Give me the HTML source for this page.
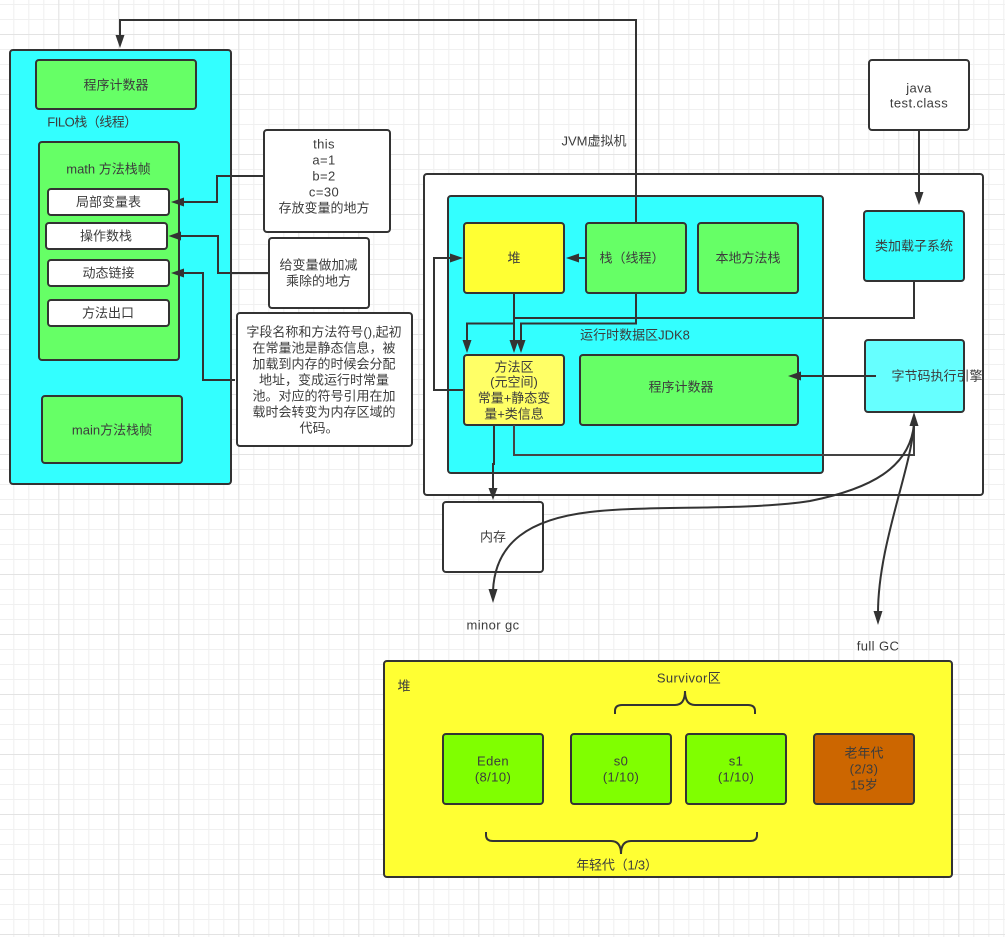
<!DOCTYPE html>
<html><head><meta charset="utf-8"><style>
html,body{margin:0;padding:0;background:#fff}
svg{display:block}
text{font-family:"Liberation Sans","Noto Sans CJK SC",sans-serif;font-size:13px;fill:#3c3c3c;text-anchor:middle;dominant-baseline:central}
text.t{letter-spacing:.4px}
.b{stroke:#333;stroke-width:2}
.l{fill:none;stroke:#333;stroke-width:2}
.a{fill:#333;stroke:none}
</style></head><body>
<svg width="1005" height="937" viewBox="0 0 1005 937" xmlns="http://www.w3.org/2000/svg">
<defs>
<pattern id="m" width="15" height="15" patternUnits="userSpaceOnUse" x="-1.700" y="4">
<path d="M0.5 0V15M0 0.5H15" stroke="#f0f0f0" stroke-width="1" fill="none"/></pattern>
<pattern id="g" width="60" height="60" patternUnits="userSpaceOnUse" x="-1.700" y="34">
<path d="M0.5 0V60M0 0.5H60" stroke="#e3e3e3" stroke-width="1" fill="none"/></pattern>
</defs>
<rect width="1005" height="937" fill="#fff"/>
<rect width="1005" height="937" fill="url(#m)"/>
<rect width="1005" height="937" fill="url(#g)"/>

<!-- left stack -->
<rect class="b" x="10" y="50" width="221" height="434" rx="3" fill="#33ffff"/>
<rect class="b" x="36" y="60" width="160" height="49" rx="3" fill="#66ff66"/>
<rect class="b" x="39" y="142" width="140" height="218" rx="3" fill="#66ff66"/>
<rect class="b" x="48" y="189" width="121" height="26" rx="3" fill="#fff"/>
<rect class="b" x="46" y="223" width="121" height="26" rx="3" fill="#fff"/>
<rect class="b" x="48" y="260" width="121" height="26" rx="3" fill="#fff"/>
<rect class="b" x="48" y="300" width="121" height="26" rx="3" fill="#fff"/>
<rect class="b" x="42" y="396" width="140" height="67" rx="3" fill="#66ff66"/>
<rect class="b" x="264" y="130" width="126" height="102" rx="3" fill="#fff"/>
<rect class="b" x="269" y="238" width="100" height="70" rx="3" fill="#fff"/>
<rect class="b" x="237" y="313" width="175" height="133" rx="3" fill="#fff"/>

<!-- JVM -->
<rect class="b" x="869" y="60" width="100" height="70" rx="3" fill="#fff"/>
<rect class="b" x="424" y="174" width="559" height="321" rx="3" fill="#fff"/>
<rect class="b" x="448" y="196" width="375" height="277" rx="3" fill="#33ffff"/>
<rect class="b" x="464" y="223" width="100" height="70" rx="3" fill="#ffff33"/>
<rect class="b" x="586" y="223" width="100" height="70" rx="3" fill="#66ff66"/>
<rect class="b" x="698" y="223" width="100" height="70" rx="3" fill="#66ff66"/>
<rect class="b" x="464" y="355" width="100" height="70" rx="3" fill="#ffff66"/>
<rect class="b" x="580" y="355" width="218" height="70" rx="3" fill="#66ff66"/>
<rect class="b" x="864" y="211" width="100" height="70" rx="3" fill="#33ffff"/>
<rect class="b" x="865" y="340" width="99" height="72" rx="3" fill="#66ffff"/>
<rect class="b" x="443" y="502" width="100" height="70" rx="3" fill="#fff"/>

<!-- heap -->
<rect class="b" x="384" y="661" width="568" height="216" rx="3" fill="#ffff33"/>
<rect class="b" x="443" y="734" width="100" height="70" rx="3" fill="#80ff00"/>
<rect class="b" x="571" y="734" width="100" height="70" rx="3" fill="#80ff00"/>
<rect class="b" x="686" y="734" width="100" height="70" rx="3" fill="#80ff00"/>
<rect class="b" x="814" y="734" width="100" height="70" rx="3" fill="#cc6600"/>

<!-- braces -->
<path class="l" d="M615 714V711Q615 705 622 705H675Q685 705 685 691Q685 705 695 705H748Q755 705 755 711V714"/>
<path class="l" d="M486 832V835Q486 841 493 841H611Q621 841 621 854Q621 841 631 841H750Q757 841 757 835V832"/>

<!-- connectors -->
<path class="l" d="M636 222V20H120V38"/><polygon class="a" points="120,48 115.500,35 124.500,35"/>
<path class="l" d="M264 176H217V202H182"/><polygon class="a" points="171,202 184,197.500 184,206.500"/>
<path class="l" d="M269 273H218V236H180"/><polygon class="a" points="168.500,236 181,231.500 181,240.500"/>
<path class="l" d="M235 380H203V273H182"/><polygon class="a" points="171,273 184,268.500 184,277.500"/>

<path class="l" d="M919 130V194"/><polygon class="a" points="919,205 914.500,192 923.500,192"/>
<path class="l" d="M914 281V318H514"/>
<path class="l" d="M514 293V342"/><polygon class="a" points="514,353 509.500,340 518.500,340"/>
<path class="l" d="M514 323.500H467V342"/><polygon class="a" points="467,353 462.500,340 471.500,340"/>
<path class="l" d="M636 293V323.500H521V342"/><polygon class="a" points="521,353 516.500,340 525.500,340"/>
<path class="l" d="M464 390H434V258H452"/><polygon class="a" points="463,258 450,253.500 450,262.500"/>
<path class="l" d="M586 258H578"/><polygon class="a" points="566,258 579,253.500 579,262.500"/>
<path class="l" d="M876 376H798"/><polygon class="a" points="788,376 801,371.500 801,380.500"/>
<path d="M514 425V455H914V420" fill="none" stroke="#444" stroke-width="2"/>
<polygon class="a" points="914,412 909.500,426 918.500,426"/>
<path class="l" d="M494 425V464H493V490"/><polygon class="a" points="493,500 488.500,488 497.500,488"/>
<path class="l" d="M914 424C910 468 870 489 810 501C745 511 650 505 590 512C530 519 495 542 493 591"/>
<polygon class="a" points="493,603 488.500,589 497.500,589"/>
<path class="l" d="M914 424C911 470 878 545 878 613"/>
<polygon class="a" points="878,625 873.500,611 882.500,611"/>

<!-- labels -->
<text x="116" y="85">程序计数器</text>
<text x="92" y="122" style="letter-spacing:-.5px">FILO栈（线程）</text>
<text x="108.500" y="169">math 方法栈帧</text>
<text x="108.500" y="202">局部变量表</text>
<text x="106" y="236">操作数栈</text>
<text x="108.500" y="273">动态链接</text>
<text x="108" y="313">方法出口</text>
<text x="112" y="430">main方法栈帧</text>
<text class="t" x="324" y="144">this</text>
<text class="t" x="324" y="160">a=1</text>
<text class="t" x="324" y="176">b=2</text>
<text class="t" x="324" y="192">c=30</text>
<text x="324" y="208">存放变量的地方</text>
<text x="318.500" y="265">给变量做加减</text>
<text x="318.500" y="281">乘除的地方</text>
<text x="324" y="332">字段名称和方法符号(),起初</text>
<text x="324" y="348">在常量池是静态信息，被</text>
<text x="324" y="364">加载到内存的时候会分配</text>
<text x="324" y="380">地址，变成运行时常量</text>
<text x="324" y="396">池。对应的符号引用在加</text>
<text x="324" y="412">载时会转变为内存区域的</text>
<text x="319" y="428">代码。</text>

<text class="t" x="919" y="88">java</text>
<text class="t" x="919" y="103">test.class</text>
<text x="594" y="141">JVM虚拟机</text>
<text x="514" y="258">堆</text>
<text x="632" y="258">栈（线程）</text>
<text x="748" y="258">本地方法栈</text>
<text x="914" y="246">类加载子系统</text>
<text x="635" y="335">运行时数据区JDK8</text>
<text x="514" y="367">方法区</text>
<text x="514" y="382">(元空间)</text>
<text x="514" y="398">常量+静态变</text>
<text x="514" y="414">量+类信息</text>
<text x="681" y="387">程序计数器</text>
<text x="937" y="376">字节码执行引擎</text>
<text x="493" y="537">内存</text>
<text class="t" x="493" y="625">minor gc</text>
<text class="t" x="878" y="646">full GC</text>

<text x="404" y="686">堆</text>
<text class="t" x="689" y="678">Survivor区</text>
<text class="t" x="493" y="761">Eden</text>
<text class="t" x="493" y="777">(8/10)</text>
<text class="t" x="621" y="761">s0</text>
<text class="t" x="621" y="777">(1/10)</text>
<text class="t" x="736" y="761">s1</text>
<text class="t" x="736" y="777">(1/10)</text>
<text x="864" y="753">老年代</text>
<text class="t" x="864" y="769">(2/3)</text>
<text x="864" y="785">15岁</text>
<text x="617" y="865" style="letter-spacing:-.2px">年轻代（1/3）</text>
</svg>
</body></html>
